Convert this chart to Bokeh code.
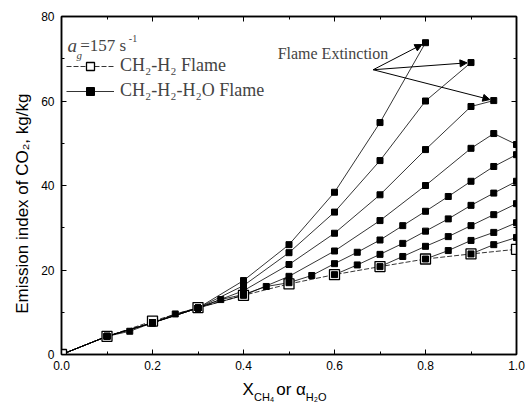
import math
from bokeh.plotting import figure
from bokeh.layouts import column, row
from bokeh.core.properties import value
from bokeh.models import (Range1d, LinearAxis, Label, Arrow, NormalHead, Legend,
                          LegendItem, SingleIntervalTicker, NumeralTickFormatter)
from bokeh.embed import file_html
from bokeh.resources import INLINE

# CH2-H2 flame (open squares)
x_base = [0.0, 0.1, 0.2, 0.3, 0.4, 0.5, 0.6, 0.7, 0.8, 0.9, 1.0]
ei_base = [0.0, 4.3, 7.9, 11.1, 14.0, 16.7, 18.9, 20.8, 22.6, 23.8, 24.9]

# CH2-H2-H2O flames (filled squares), one curve per pair of lists
x_w1 = [0.0, 0.1, 0.2, 0.3, 0.4, 0.5, 0.6, 0.7, 0.8]
ei_w1 = [0.0, 4.3, 7.5, 11.0, 17.5, 26.0, 38.4, 54.9, 73.8]
x_w2 = [0.0, 0.1, 0.2, 0.3, 0.4, 0.5, 0.6, 0.7, 0.8, 0.9]
ei_w2 = [0.0, 4.3, 7.5, 11.0, 16.3, 24.1, 33.7, 45.9, 60.0, 69.1]
x_w3 = [0.0, 0.1, 0.2, 0.3, 0.4, 0.5, 0.6, 0.7, 0.8, 0.9, 0.95]
ei_w3 = [0.0, 4.3, 7.5, 11.0, 15.1, 21.3, 28.7, 37.8, 48.5, 58.7, 60.1]
x_w4 = [0.0, 0.1, 0.2, 0.3, 0.4, 0.5, 0.6, 0.7, 0.8, 0.9, 0.95, 1.0]
ei_w4 = [0.0, 4.3, 7.5, 11.0, 14.0, 18.5, 24.5, 31.7, 40.0, 48.8, 52.3, 49.7]
x_w5 = [0.0, 0.1, 0.15, 0.2, 0.25, 0.3, 0.35, 0.4, 0.45, 0.5, 0.55, 0.6,
        0.65, 0.7, 0.75, 0.8, 0.85, 0.9, 0.95, 1.0]
ei_w5 = [0.0, 4.3, 5.5, 7.5, 9.6, 11.0, 13.0, 14.2, 16.1, 17.0, 18.7, 21.5,
         24.2, 27.1, 30.5, 33.9, 37.4, 41.0, 44.5, 47.3]
x_w6 = [0.6, 0.65, 0.7, 0.75, 0.8, 0.85, 0.9, 0.95, 1.0]
ei_w6 = [18.9, 21.2, 23.7, 26.3, 29.2, 32.1, 35.3, 38.2, 41.0]
x_w7 = [0.7, 0.75, 0.8, 0.85, 0.9, 0.95, 1.0]
ei_w7 = [20.8, 23.2, 25.6, 27.9, 30.5, 33.1, 35.7]
x_w8 = [0.8, 0.85, 0.9, 0.95, 1.0]
ei_w8 = [22.6, 24.6, 27.0, 28.9, 31.2]
x_w9 = [0.9, 0.95, 1.0]
ei_w9 = [23.8, 26.0, 27.7]

water = [(x_w1, ei_w1), (x_w2, ei_w2), (x_w3, ei_w3), (x_w4, ei_w4), (x_w5, ei_w5),
         (x_w6, ei_w6), (x_w7, ei_w7), (x_w8, ei_w8), (x_w9, ei_w9)]
# curves that end at flame extinction
extinct = [(x_w1[-1], ei_w1[-1]), (x_w2[-1], ei_w2[-1]), (x_w3[-1], ei_w3[-1])]

SERIF = "Liberation Serif"
SANS = "Liberation Sans"

p = figure(width=498, height=378, output_backend="svg", toolbar_location=None,
           x_range=Range1d(0, 1.0), y_range=Range1d(0, 80),
           min_border_left=27, min_border_right=16, min_border_top=16,
           min_border_bottom=24, x_axis_type=None, y_axis_type=None)
p.xgrid.grid_line_color = None
p.ygrid.grid_line_color = None
p.outline_line_color = "black"
p.outline_line_width = 1.5
p.background_fill_color = "white"
p.border_fill_color = "white"


def style_axis(ax, labels=True):
    ax.axis_line_width = 1.5
    ax.major_tick_in = 5
    ax.major_tick_out = 0
    ax.minor_tick_in = 3
    ax.minor_tick_out = 0
    ax.major_tick_line_width = 1
    ax.minor_tick_line_width = 1
    if labels:
        ax.major_label_text_font = SANS
        ax.major_label_text_font_size = "12px"
        ax.major_label_text_color = "black"
    else:
        ax.major_label_text_color = None
        ax.major_label_text_font_size = "1px"
        ax.major_label_standoff = 0


xt = SingleIntervalTicker(interval=0.2, num_minor_ticks=2)
yt = SingleIntervalTicker(interval=20, num_minor_ticks=2)

xb = LinearAxis(ticker=xt, formatter=NumeralTickFormatter(format="0.0"))
style_axis(xb)
xb.major_label_standoff = 6
p.add_layout(xb, "below")
xa = LinearAxis(ticker=xt)
style_axis(xa, labels=False)
p.add_layout(xa, "above")

yl = LinearAxis(ticker=yt, formatter=NumeralTickFormatter(format="0"))
style_axis(yl)
yl.major_label_standoff = 7
p.add_layout(yl, "left")
yr = LinearAxis(ticker=yt)
style_axis(yr, labels=False)
p.add_layout(yr, "right")

# water-diluted flame lines
water_lines = []
for xs, ys in water:
    water_lines.append(p.line(xs, ys, line_color="black", line_width=0.8))

# CH2-H2 flame
base_line = p.line(x_base, ei_base, line_color="black", line_width=0.8, line_dash="5 2")
base_sq = p.scatter(x_base, ei_base, marker="square", size=10, fill_color="white",
                    line_color="black", line_width=1.3)

water_sq = []
for xs, ys in water:
    px = [a for a in xs if a > 0]
    py = [b for a, b in zip(xs, ys) if a > 0]
    water_sq.append(p.scatter(px, py, marker="square", size=6, fill_color="black",
                              line_color="black"))

legend = Legend(items=[LegendItem(label="CH\u2082-H\u2082 Flame", renderers=[base_line, base_sq]),
                       LegendItem(label="CH\u2082-H\u2082-H\u2082O Flame",
                                  renderers=[water_lines[0], water_sq[0]])],
                location=(5, 253), border_line_color=None, background_fill_alpha=0,
                label_text_font=SERIF, label_text_font_size="18px",
                glyph_width=48, glyph_height=20, label_height=20, spacing=4,
                padding=6, label_standoff=6, margin=0)
p.add_layout(legend, "center")

# strain rate note above the legend
p.add_layout(Label(x=0.013, y=73.1, text="a", text_font=SERIF, text_font_size="19px",
                   text_font_style="italic", text_baseline="middle"))
p.add_layout(Label(x=0.033, y=71.0, text="g", text_font=SERIF, text_font_size="11px",
                   text_font_style="italic", text_baseline="middle"))
p.add_layout(Label(x=0.041, y=73.1, text="=157 s", text_font=SERIF, text_font_size="17px",
                   text_baseline="middle"))
p.add_layout(Label(x=0.148, y=74.8, text="-1", text_font=SERIF, text_font_size="10px",
                   text_baseline="middle"))

# flame extinction annotation
p.add_layout(Label(x=0.475, y=71.2, text="Flame Extinction", text_font=SERIF,
                   text_font_size="16px", text_baseline="middle"))
sx0, sy0 = 0.685, 67.4
PX_X, PX_Y = 455.0, 4.225  # pixels per data unit
for ex, ey in extinct:
    dxp = (ex - sx0) * PX_X
    dyp = (ey - sy0) * PX_Y
    d = (dxp ** 2 + dyp ** 2) ** 0.5
    f = (d - 4.0) / d
    p.add_layout(Arrow(x_start=sx0, y_start=sy0, x_end=sx0 + (ex - sx0) * f,
                       y_end=sy0 + (ey - sy0) * f, line_width=1, line_color="black",
                       end=NormalHead(size=7, fill_color="black", line_color="black")))


def strip(width, height, x_range, y_range, left, top, bottom):
    s = figure(width=width, height=height, output_backend="svg", toolbar_location=None,
               x_range=x_range, y_range=y_range, min_border_left=left,
               min_border_right=16 if left else 0, min_border_top=top,
               min_border_bottom=bottom, x_axis_type=None, y_axis_type=None)
    s.xgrid.grid_line_color = None
    s.ygrid.grid_line_color = None
    s.outline_line_color = None
    s.background_fill_color = "white"
    s.border_fill_color = "white"
    return s


# left strip with the rotated y-axis title
ys = strip(34, 378, Range1d(0, 1), p.y_range, 0, 16, 24)
ys.min_border_right = 0
ys.text(x=[0.66], y=[35.7], text=["Emission index of CO\u2082, kg/kg"], angle=math.pi / 2,
        text_font=value(SANS), text_font_size=value("17px"), text_align="center",
        text_baseline="middle", text_color="black")

# strip under the plot carrying the x-axis title with its subscripts
t = strip(498, 29, p.x_range, Range1d(0, 1), 27, 0, 0)
title_parts = [("X", 0.398, 0.62, "17px"), ("CH\u2084", 0.423, 0.36, "11px"),
               ("or \u03b1", 0.472, 0.62, "17px"), ("H\u2082O", 0.537, 0.36, "11px")]
for txt, tx, ty, fs in title_parts:
    t.text(x=[tx], y=[ty], text=[txt], text_font=value(SANS), text_font_size=value(fs),
           text_baseline="middle", text_align="left", text_color="black")

blank = strip(34, 29, Range1d(0, 1), Range1d(0, 1), 0, 0, 0)
blank.min_border_right = 0

layout = column(row(ys, p, spacing=0), row(blank, t, spacing=0), spacing=0)
open("out.html", "w").write(file_html(layout, INLINE))
